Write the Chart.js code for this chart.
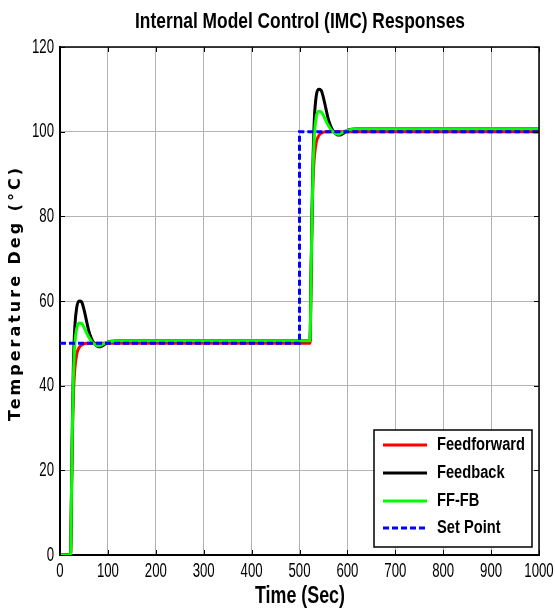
<!DOCTYPE html>
<html>
<head>
<meta charset="utf-8">
<script src="https://cdn.jsdelivr.net/npm/chart.js@4.4.1/dist/chart.umd.min.js"></script>
<style>
  body { margin: 0; background: #fff; }
  #wrap { width: 555px; height: 612px; position: relative; }
</style>
</head>
<body>
<div id="wrap"><canvas id="imcChart"></canvas></div>
<script>
// time axis (sec) shared by the three controller responses
const timeSec = [0, 22, 24, 26, 28, 31, 35, 40, 45, 50,
                 55, 60, 65, 70, 75, 80, 85, 90, 95, 100,
                 110, 120, 500,
                 522, 524, 526, 528, 531, 535, 540, 545, 550,
                 555, 560, 565, 570, 575, 580, 585, 590, 595, 600,
                 610, 620, 1000];

const feedforward = [0, 0, 14, 29, 38, 44, 47.5, 49, 49.6, 49.9,
                     50, 50, 50, 50, 50, 50, 50, 50, 50, 50,
                     50, 50, 50,
                     50, 64, 78, 88, 94, 97.5, 99, 99.6, 99.9,
                     100, 100, 100, 100, 100, 100, 100, 100, 100, 100,
                     100, 100, 100];

const feedback = [0, 0, 15, 32, 45, 54, 58.5, 60, 59.8, 58,
                  55.5, 53, 51.3, 50.2, 49.6, 49.2, 49.2, 49.5, 49.9, 50.3,
                  50.5, 50.6, 50.6,
                  50.6, 65, 80, 92, 103, 108.5, 110, 109.8, 108,
                  105.5, 103, 101.3, 100.2, 99.6, 99.2, 99.2, 99.5, 99.9, 100.3,
                  100.6, 100.7, 100.7];

const ffFb = [0, 0, 15, 31, 42, 50, 53.5, 54.8, 54.7, 53.8,
              52.6, 51.5, 50.6, 50, 49.6, 49.4, 49.5, 49.8, 50.1, 50.3,
              50.5, 50.6, 50.6,
              50.6, 65, 79, 90, 99, 103.5, 104.8, 104.7, 103.8,
              102.6, 101.5, 100.6, 100, 99.6, 99.4, 99.5, 99.8, 100.1, 100.3,
              100.6, 100.7, 100.7];

const setPointTime = [0, 500, 500, 1000];
const setPoint = [50, 50, 100, 100];

const xTicks = [0, 100, 200, 300, 400, 500, 600, 700, 800, 900, 1000];
const yTicks = [0, 20, 40, 60, 80, 100, 120];

const seriesNames = ['Feedforward', 'Feedback', 'FF-FB', 'Set Point'];
const seriesColors = ['#ff0000', '#000000', '#00ff00', '#0000ff'];

const SANS = '"Liberation Sans", Arial, sans-serif';

function toPoints(xs, ys) {
    return xs.map((t, i) => ({ x: t, y: ys[i] }));
}

// text squeezed horizontally to look like the narrow Helvetica of the original
function narrowText(ctx, text, x, y, sx, align) {
    ctx.save();
    ctx.translate(x, y);
    ctx.scale(sx, 1);
    ctx.textAlign = align;
    ctx.fillText(text, 0, 0);
    ctx.restore();
}

// draws the box border, inward ticks, tick labels, titles and the in-plot legend
const matlabLook = {
    id: 'matlabLook',
    afterDraw(chart) {
        const ctx = chart.ctx;
        const area = chart.chartArea;
        const xs = chart.scales.x;
        const ys = chart.scales.y;
        ctx.save();

        // top / right border
        ctx.strokeStyle = '#000';
        ctx.lineWidth = 1.5;
        ctx.beginPath();
        ctx.moveTo(area.left, area.top);
        ctx.lineTo(area.right, area.top);
        ctx.lineTo(area.right, area.bottom);
        ctx.stroke();

        // inward tick marks
        ctx.lineWidth = 1;
        ctx.beginPath();
        xTicks.forEach(v => {
            const px = Math.round(xs.getPixelForValue(v)) + 0.5;
            ctx.moveTo(px, area.bottom); ctx.lineTo(px, area.bottom - 5);
            ctx.moveTo(px, area.top); ctx.lineTo(px, area.top + 5);
        });
        yTicks.forEach(v => {
            const py = Math.round(ys.getPixelForValue(v)) + 0.5;
            ctx.moveTo(area.left, py); ctx.lineTo(area.left + 5, py);
            ctx.moveTo(area.right, py); ctx.lineTo(area.right - 5, py);
        });
        ctx.stroke();

        // tick labels (tall, narrow digits)
        ctx.fillStyle = '#000';
        ctx.textBaseline = 'middle';
        ctx.font = '20px ' + SANS;
        xTicks.forEach(v => narrowText(ctx, String(v), xs.getPixelForValue(v), 571, 0.66, 'center'));
        yTicks.forEach(v => narrowText(ctx, String(v), area.left - 6, ys.getPixelForValue(v), 0.66, 'right'));

        // title
        ctx.font = 'bold 22px ' + SANS;
        const title = 'Internal Model Control (IMC) Responses';
        narrowText(ctx, title, 300, 22, 330 / ctx.measureText(title).width, 'center');

        // x axis title
        ctx.font = 'bold 23px ' + SANS;
        narrowText(ctx, 'Time (Sec)', 300, 597, 90 / ctx.measureText('Time (Sec)').width, 'center');

        // y axis title
        ctx.save();
        ctx.translate(16, 293);
        ctx.rotate(-Math.PI / 2);
        ctx.textAlign = 'center';
        ctx.font = 'bold 16px "DejaVu Sans", sans-serif';
        ctx.letterSpacing = '3px';
        ctx.fillText('Temperature Deg (°C)', 0, 0);
        ctx.restore();

        // legend box
        const bx = 374, by = 430, bw = 158, bh = 117;
        ctx.fillStyle = '#fff';
        ctx.fillRect(bx, by, bw, bh);
        ctx.strokeStyle = '#000';
        ctx.lineWidth = 1.5;
        ctx.strokeRect(bx, by, bw, bh);
        ctx.font = 'bold 18px ' + SANS;
        const legScale = 88 / ctx.measureText(seriesNames[0]).width;
        const rowY = [445, 473, 501, 528];
        seriesNames.forEach((name, i) => {
            ctx.strokeStyle = seriesColors[i];
            ctx.lineWidth = 3;
            ctx.setLineDash(i === 3 ? [6, 3] : []);
            ctx.beginPath();
            ctx.moveTo(383, rowY[i]);
            ctx.lineTo(427, rowY[i]);
            ctx.stroke();
            ctx.fillStyle = '#000';
            narrowText(ctx, name, 437, rowY[i], legScale, 'left');
        });
        ctx.restore();
    }
};

const lineStyle = {
    pointRadius: 0,
    borderWidth: 3,
    fill: false,
    cubicInterpolationMode: 'monotone'
};

new Chart(document.getElementById('imcChart'), {
    type: 'line',
    data: {
        datasets: [
            { ...lineStyle, label: seriesNames[0], data: toPoints(timeSec, feedforward), borderColor: seriesColors[0], order: 3 },
            { ...lineStyle, label: seriesNames[1], data: toPoints(timeSec, feedback), borderColor: seriesColors[1], order: 2 },
            { ...lineStyle, label: seriesNames[2], data: toPoints(timeSec, ffFb), borderColor: seriesColors[2], order: 1 },
            { ...lineStyle, label: seriesNames[3], data: toPoints(setPointTime, setPoint), borderColor: seriesColors[3],
              borderDash: [6, 3], cubicInterpolationMode: 'default', tension: 0, borderWidth: 3, order: 0 }
        ]
    },
    options: {
        responsive: true,
        maintainAspectRatio: false,
        animation: false,
        layout: { padding: { top: 47, right: 16, left: 0, bottom: 0 } },
        plugins: {
            legend: { display: false },
            title: { display: false },
            tooltip: { enabled: false }
        },
        scales: {
            x: {
                type: 'linear',
                min: 0,
                max: 1000,
                afterBuildTicks: s => { s.ticks = xTicks.map(v => ({ value: v })); },
                afterFit: s => { s.height = 57; s.paddingLeft = 0; s.paddingRight = 0; },
                grid: { color: '#b4b4b4', lineWidth: 1, drawTicks: false },
                border: { color: '#000', width: 2 },
                ticks: { display: false }
            },
            y: {
                min: 0,
                max: 120,
                afterBuildTicks: s => { s.ticks = yTicks.map(v => ({ value: v })); },
                afterFit: s => { s.width = 60; s.paddingTop = 0; s.paddingBottom = 0; },
                grid: { color: '#b4b4b4', lineWidth: 1, drawTicks: false },
                border: { color: '#000', width: 2 },
                ticks: { display: false }
            }
        }
    },
    plugins: [matlabLook]
});
</script>
</body>
</html>
